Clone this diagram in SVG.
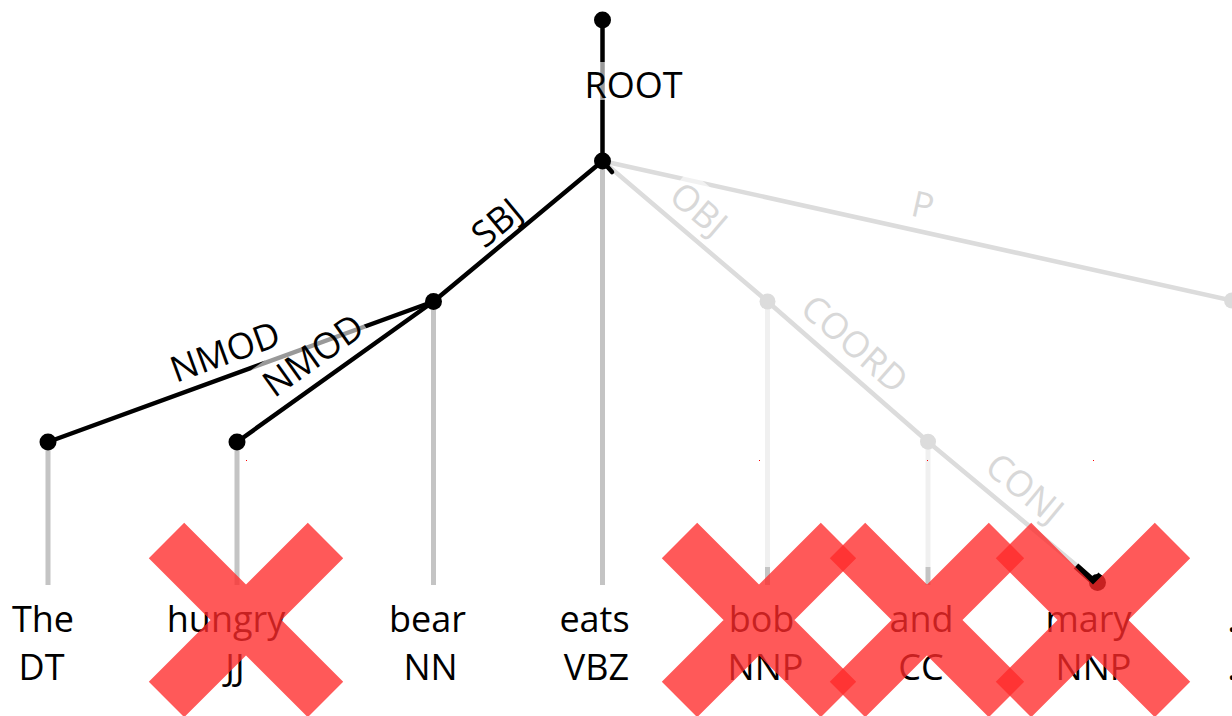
<svg xmlns="http://www.w3.org/2000/svg" width="1232" height="716" viewBox="0 0 1232 716">
<style>
text{font-family:"Open Sans","Noto Sans","Liberation Sans",sans-serif;font-size:36px;text-anchor:middle}
.e{stroke:#000;stroke-width:4.5;fill:none;stroke-linecap:round}
.eg{stroke:#dcdcdc;stroke-width:4.5;fill:none;stroke-linecap:round}
.v{stroke:#c4c4c4;stroke-width:5}
.vl{stroke:#f0f0f0;stroke-width:5}
.bg{fill:#fff;fill-opacity:0.6}
.lg{fill:#d8d8d8}
.nb{fill:#000}
.ng{fill:#dcdcdc}
.x{fill:#ff2a2a;fill-opacity:0.78}
</style>
<defs>
<path id="cross" d="M-97.2,-61.8 L-61.8,-97.2 L97.2,61.8 L61.8,97.2 Z M61.8,-97.2 L97.2,-61.8 L-61.8,97.2 L-97.2,61.8 Z"/>
</defs>
<g id="projections">
<line class="v" x1="48" y1="442" x2="48" y2="585"/>
<line class="v" x1="237" y1="442" x2="237" y2="585"/>
<line class="v" x1="433.5" y1="301.5" x2="433.5" y2="585"/>
<line class="v" x1="602.5" y1="161" x2="602.5" y2="585"/>
<line class="vl" x1="767.5" y1="301.5" x2="767.5" y2="567"/>
<line class="v" x1="767.5" y1="567" x2="767.5" y2="585"/>
<line class="vl" x1="928" y1="441.7" x2="928" y2="567"/>
<line class="v" x1="928" y1="567" x2="928" y2="585"/>
</g>
<g id="connectors">
<line class="e" x1="602.5" y1="20" x2="602.5" y2="161"/>
<line class="e" x1="433.5" y1="301.5" x2="602.5" y2="161"/>
<line class="e" x1="48" y1="442" x2="433.5" y2="301.5"/>
<line class="e" x1="237" y1="442" x2="433.5" y2="301.5"/>
<line class="eg" x1="602.5" y1="161" x2="767.5" y2="301.5"/>
<line class="eg" x1="602.5" y1="161" x2="1232" y2="300.5"/>
<line class="eg" x1="767.5" y1="301.5" x2="928" y2="441.7"/>
<line class="eg" x1="928" y1="441.7" x2="1097" y2="582.5"/>
<polyline points="1076,566 1094,582 1101,575" fill="none" stroke="#000" stroke-width="7" stroke-linejoin="miter" stroke-linecap="butt"/>
<line class="e" x1="602.5" y1="161" x2="612" y2="172" stroke-width="5"/>
</g>
<g id="edge-labels">
<g transform="translate(633.5,81)"><rect class="bg" x="-50.5" y="-19" width="101" height="38"/><text y="16.7">ROOT</text></g>
<g transform="translate(494.1,219.6) rotate(-39.6)"><rect class="bg" x="-28.5" y="-20" width="57" height="40"/><text y="16.7">SBJ</text></g>
<g transform="translate(223.7,348) rotate(-20)"><rect class="bg" x="-59" y="-20" width="118" height="40"/><text y="16.7">NMOD</text></g>
<g transform="translate(310.9,352) rotate(-35.5)"><rect class="bg" x="-59" y="-20" width="118" height="40"/><text y="16.7">NMOD</text></g>
<g transform="translate(701.4,206.2) rotate(40.4)"><rect class="bg" x="-33" y="-20" width="66" height="40"/><text class="lg" y="16.7">OBJ</text></g>
<g transform="translate(923.8,201.4) rotate(12.6)"><rect class="bg" x="-13" y="-20" width="26" height="40"/><text class="lg" y="16.7">P</text></g>
<g transform="translate(857.4,340.7) rotate(41.2)"><rect class="bg" x="-65.5" y="-20" width="131" height="40"/><text class="lg" y="16.7">COORD</text></g>
<g transform="translate(1027.4,485.2) rotate(39.7)"><rect class="bg" x="-46" y="-20" width="92" height="40"/><text class="lg" y="16.7">CONJ</text></g>
</g>
<g id="node-root"><circle class="nb" cx="602.5" cy="20" r="8.5"/></g>
<g id="node-eats"><circle class="nb" cx="602.5" cy="161" r="8.5"/><text x="594.5" y="632">eats</text><text x="596.5" y="680">VBZ</text></g>
<g id="node-bear"><circle class="nb" cx="433.5" cy="301.5" r="8.5"/><text x="427.5" y="632">bear</text><text x="430.5" y="680">NN</text></g>
<g id="node-the"><circle class="nb" cx="48" cy="442" r="8.5"/><text x="43" y="632">The</text><text x="41.5" y="680">DT</text></g>
<g id="node-hungry"><circle class="nb" cx="237" cy="442" r="8.5"/><text x="226" y="632">hungry</text><text x="235" y="680">JJ</text></g>
<g id="node-bob"><circle class="ng" cx="767.5" cy="301.5" r="8"/><text x="761.5" y="632">bob</text><text x="765.5" y="680">NNP</text></g>
<g id="node-and"><circle class="ng" cx="928" cy="441.7" r="8"/><text x="921.5" y="632">and</text><text x="921" y="680">CC</text></g>
<g id="node-mary"><circle class="nb" cx="1097.5" cy="582.5" r="8.5"/><text x="1088.5" y="632">mary</text><text x="1093.5" y="680">NNP</text></g>
<g id="node-punct"><circle class="ng" cx="1232" cy="300.5" r="8"/><text x="1232" y="632">.</text><text x="1232" y="680">.</text></g>
<g id="marks">
<rect x="246" y="460" width="1" height="1" fill="#f00"/>
<rect x="759" y="460" width="1" height="1" fill="#f00"/>
<rect x="927" y="460" width="1" height="1" fill="#f00"/>
<rect x="1093" y="460" width="1" height="1" fill="#f00"/>
<use href="#cross" class="x" transform="translate(246,620)"/>
<use href="#cross" class="x" transform="translate(759,620)"/>
<use href="#cross" class="x" transform="translate(927,620)"/>
<use href="#cross" class="x" transform="translate(1093,620)"/>
</g>
</svg>
